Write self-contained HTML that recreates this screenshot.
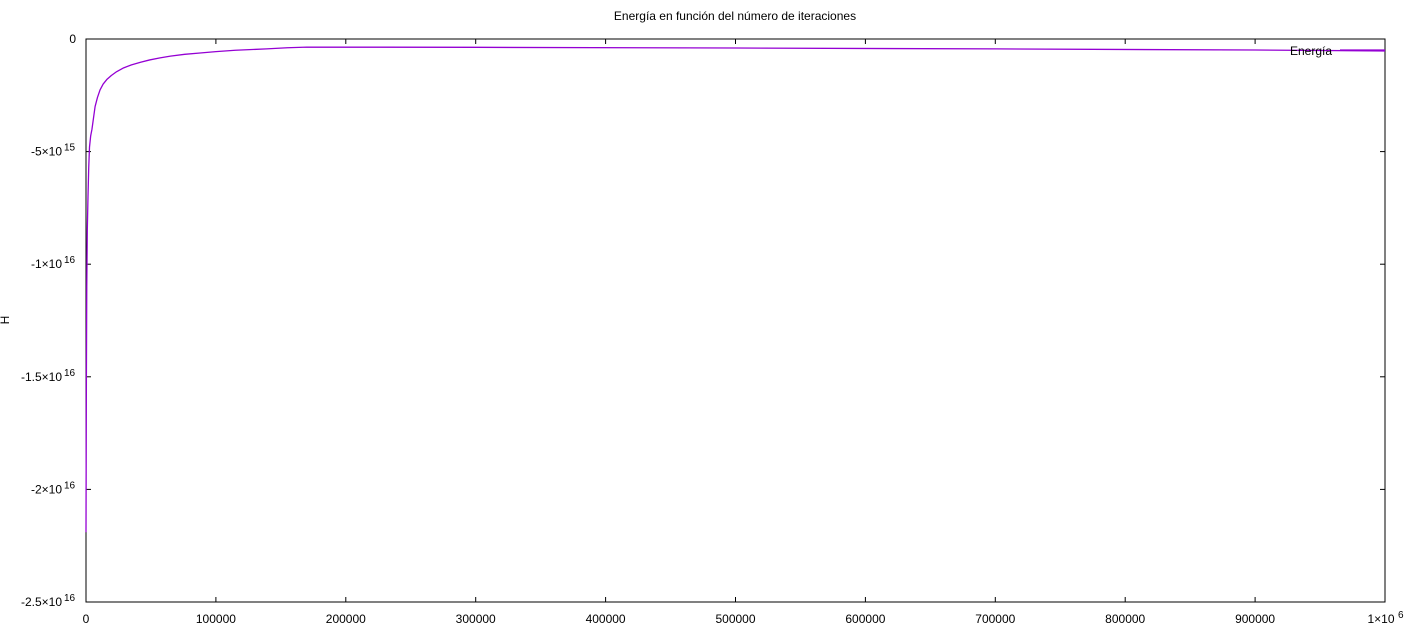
<!DOCTYPE html>
<html><head><meta charset="utf-8"><style>
body{margin:0;background:#fff}
svg{display:block;font-family:"Liberation Sans",sans-serif;font-size:12px}
</style></head><body>
<svg width="1405" height="630" id="chart">
<text x="735" y="20" text-anchor="middle">Energía en función del número de iteraciones</text>
<text transform="translate(9,320) rotate(-90)" text-anchor="middle">H</text>
<rect x="86" y="39" width="1299" height="563" fill="none" stroke="#000" stroke-width="1"/>
<g id="ticks"></g>
<polyline id="series" fill="none" stroke="#9400d3" stroke-width="1.3" stroke-linejoin="round"/>
<text x="1332" y="55" text-anchor="end">Energía</text>
<line x1="1340" y1="50" x2="1385" y2="50" stroke="#9400d3" stroke-width="1.3"/>
</svg>
<script>
const iterations=[0,300,600,1000,1540,2100,2700,3600,4600,5800,7000,8800,10800,13200,16000,19500,23600,29000,35000,42000,49000,57000,65000,76000,87800,100000,115000,139000,155000,170000,300000,500000,700000,900000,1000000];
const energy=[-2.19e16,-1.5e16,-1.1e16,-8.5e15,-7.0e15,-5.7e15,-4.8e15,-4.3e15,-4.0e15,-3.5e15,-3.0e15,-2.6e15,-2.26e15,-2.0e15,-1.8e15,-1.62e15,-1.45e15,-1.28e15,-1.15e15,-1.03e15,-9.3e14,-8.4e14,-7.6e14,-6.8e14,-6.2e14,-5.6e14,-5.0e14,-4.4e14,-3.9e14,-3.6e14,-3.7e14,-4.0e14,-4.4e14,-4.9e14,-5.3e14];
const xTicks=[0,100000,200000,300000,400000,500000,600000,700000,800000,900000,1000000];
const xTickLabels=["0","100000","200000","300000","400000","500000","600000","700000","800000","900000","1×10"];
const yTicks=[0,-5e15,-1e16,-1.5e16,-2e16,-2.5e16];
const yTickLabels=["0","-5×10","-1×10","-1.5×10","-2×10","-2.5×10"];
const yTickExp=["","15","16","16","16","16"];
const L=86,R=1385,T=39,B=602;
const sx=v=>L+(v-0)/(1e6)*(R-L);
const sy=v=>T+(0-v)/(2.5e16)*(B-T);
const NS="http://www.w3.org/2000/svg";
const g=document.getElementById('ticks');
function mk(tag,attrs,txt){const e=document.createElementNS(NS,tag);for(const k in attrs)e.setAttribute(k,attrs[k]);if(txt!==undefined)e.textContent=txt;return e;}
xTicks.forEach((v,i)=>{
  const x=sx(v);
  const t1=mk('line',{x1:x,y1:B,x2:x,y2:B-5,stroke:'#000'});
  
  
  g.appendChild(t1);
  const t2=mk('line',{x1:x,y1:T,x2:x,y2:T+5,stroke:'#000'});
  
  
  g.appendChild(t2);
  const last=i===xTicks.length-1;
  const lab=mk('text',{x:last?x-4:x,y:623,'text-anchor':'middle'},xTickLabels[i]);
  
  
  g.appendChild(lab);
  if(last){
    const ex=mk('text',{x:x+13,y:618,'font-size':'10'},'6');
    
    
    g.appendChild(ex);
  }
});
yTicks.forEach((v,i)=>{
  const y=sy(v);
  const t1=mk('line',{x1:L,y1:y,x2:L+5,y2:y,stroke:'#000'});
  
  
  g.appendChild(t1);
  const t2=mk('line',{x1:R,y1:y,x2:R-5,y2:y,stroke:'#000'});
  
  
  g.appendChild(t2);
  if(yTickExp[i]){
    const lab=mk('text',{x:62,y:y+4,'text-anchor':'end'},yTickLabels[i]);
    
    
    g.appendChild(lab);
    const ex=mk('text',{x:64,y:y-1,'font-size':'10'},yTickExp[i]);
    
    
    g.appendChild(ex);
  } else {
    const lab=mk('text',{x:76,y:y+4,'text-anchor':'end'},yTickLabels[i]);
    
    
    g.appendChild(lab);
  }
});
document.getElementById('series').setAttribute('points',iterations.map((v,i)=>sx(v).toFixed(2)+','+sy(energy[i]).toFixed(2)).join(' '));
</script>
</body></html>
